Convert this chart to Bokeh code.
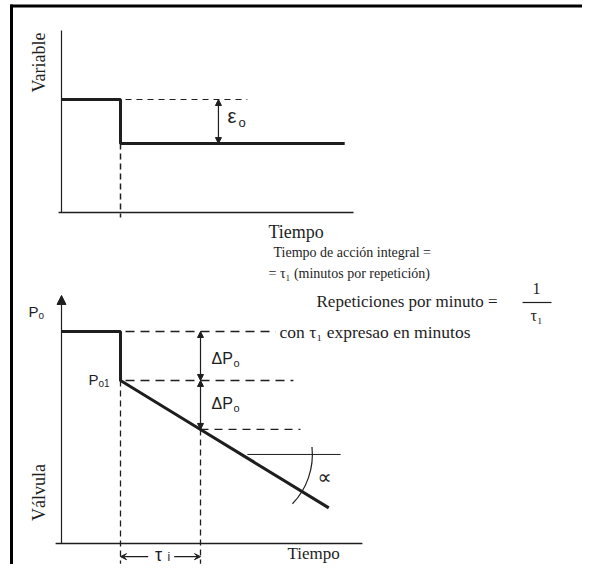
import math
from bokeh.plotting import figure
from bokeh.models import Range1d, Arrow, NormalHead, VeeHead
from bokeh.core.properties import value
from bokeh.embed import file_html
from bokeh.resources import INLINE

# ---------------- data (diagram units) ----------------
# time axis: the step happens at t = 1, integral time tau_i
t_step = 1.0
tau_i = 1.356
# controlled variable (top panel)
var_t = [0.0, 1.0, 1.0, 4.8]
var_v = [1.0, 1.0, 0.61, 0.61]
eps_hi, eps_lo = 1.0, 0.61
# valve output (bottom panel)
valve_t = [0.0, 1.0, 1.0, 2.356, 4.53]
valve_p = [1.0, 1.0, 0.769, 0.538, 0.168]
P0, P01, P02 = 1.0, 0.769, 0.538
alpha_ref = 0.42

# ---------------- labels ----------------
lbl_var = "Variable"
lbl_valve = "Válvula"
lbl_time = "Tiempo"
note_lines = ["Tiempo de acción integral =", "= τ₁ (minutos por repetición)",
              "Repeticiones por minuto =", "con τ₁ expresao en minutos"]

INK = "#1e1e1e"
SERIF = value("Liberation Serif")
SANS = value("Liberation Sans")

# layout: pixel-like default ranges + data ranges for the two panels
W, H = 582, 564
X0, XS = 61.0, 59.0          # px of t=0, px per time unit
Y0V, YSV = 212.0, 113.0      # top panel baseline, px per unit
Y0P, YSP = 543.0, 212.0      # bottom panel baseline, px per unit

p = figure(width=W, height=H, x_range=Range1d(0, W), y_range=Range1d(H, 0),
           output_backend="svg", toolbar_location=None, min_border=0,
           x_axis_location=None, y_axis_location=None)
p.grid.visible = False
p.outline_line_color = None
p.background_fill_color = "white"
p.border_fill_color = "white"
p.extra_x_ranges = {"t": Range1d((0 - X0) / XS, (W - X0) / XS)}
p.extra_y_ranges = {"var": Range1d((Y0V - H) / YSV, Y0V / YSV),
                    "valve": Range1d((Y0P - H) / YSP, Y0P / YSP)}

def seg(xs, ys, yr, **kw):
    p.line(xs, ys, x_range_name="t", y_range_name=yr, line_color=INK, **kw)

def arrow(x0, y0, x1, y1, yr, start=True, end=True, size=6, lw=1.2, head="normal"):
    def mk():
        if head == "normal":
            return NormalHead(size=size, fill_color=INK, line_color=INK, line_width=1)
        return VeeHead(size=size, fill_color=INK, line_color=INK, line_width=1)
    a = Arrow(x_start=x0, y_start=y0, x_end=x1, y_end=y1,
              x_range_name="t", y_range_name=yr,
              start=mk() if start else None, end=mk() if end else None,
              line_color=INK, line_width=lw)
    p.add_layout(a)

def txt(x, y, s, size, font=SERIF, align="left", angle=0.0, baseline="middle"):
    p.text(x=[x], y=[y], text=[s], text_font=font, text_font_size=f"{size}px",
           text_align=align, text_baseline=baseline, text_color=INK, angle=angle)

# frame of the scanned figure
p.line([11, 11], [4, H], line_color="black", line_width=3)
p.line([10, W], [5.5, 5.5], line_color="black", line_width=3)

# ---------------- top panel ----------------
seg([0, 0], [0, 1.61], "var", line_width=1.2)
seg([-0.05, 4.95], [0, 0], "var", line_width=1.5)
seg(var_t, var_v, "var", line_width=3)
seg([1.085, 3.15], [eps_hi, eps_hi], "var", line_width=1.2, line_dash="6 5")
seg([t_step, t_step], [eps_lo, -0.044], "var", line_width=1.5, line_dash="6 4")
arrow(2.66, eps_lo, 2.66, eps_hi, "var", size=6)
txt(227, 115, "ε", 20, font=SANS)
txt(238, 122, "o", 13, font=SANS)
txt(38, 62, lbl_var, 18, align="center", angle=math.pi / 2)

# ---------------- middle notes ----------------
txt(268, 231, lbl_time, 18)
txt(273, 252, note_lines[0], 14)
txt(268, 273, note_lines[1], 14)
txt(316, 301, note_lines[2], 17)
txt(536, 288, "1", 16, align="center")
p.line([522, 551], [302, 302], line_color=INK, line_width=1.2)
txt(536, 315, "τ₁", 16, align="center")
txt(279, 331, note_lines[3], 17.5)

# ---------------- bottom panel ----------------
arrow(0, 0, 0, 1.17, "valve", start=False, end=True, size=9, lw=1.2)
seg([-0.1, 5.1], [0, 0], "valve", line_width=1.5)
seg(valve_t, valve_p, "valve", line_width=3)
seg([1.085, 3.63], [P0, P0], "valve", line_width=1.5, line_dash="9 6")
seg([1.085, 3.93], [P01, P01], "valve", line_width=1.5, line_dash="9 6")
seg([2.356, 4.05], [P02, P02], "valve", line_width=1.2, line_dash="8 6")
seg([t_step, t_step], [P01, -0.095], "valve", line_width=1.3, line_dash="6 4")
seg([t_step + tau_i, t_step + tau_i], [P02, -0.095], "valve", line_width=1.3, line_dash="6 4")
arrow(t_step + tau_i, P0, t_step + tau_i, P01, "valve", size=6)
arrow(t_step + tau_i, P01, t_step + tau_i, P02, "valve", size=6)
seg([3.15, 4.73], [alpha_ref, alpha_ref], "valve", line_width=1)
t_c = t_step + (P01 - alpha_ref) / (P01 - P02) * tau_i
p.arc(x=[t_c], y=[alpha_ref], radius=71, radius_units="screen",
      start_angle=math.radians(-44), end_angle=math.radians(6),
      x_range_name="t", y_range_name="valve", line_color=INK, line_width=1.2)
txt(317, 476, "∝", 20, font=value("DejaVu Sans"))
# tau_i dimension
arrow(1.47, -0.062, t_step, -0.062, "valve", start=False, end=True, size=6, head="vee")
arrow(1.91, -0.062, t_step + tau_i, -0.062, "valve", start=False, end=True, size=6, head="vee")
txt(158, 554, "τ", 18, font=SANS, align="center")
txt(167, 556, "i", 12, font=SANS)
# labels
txt(28, 311, "P", 15, font=SANS)
txt(38, 315, "o", 10, font=SANS)
txt(88, 379, "P", 15, font=SANS)
txt(98, 383, "o1", 10, font=SANS)
txt(211, 358, "ΔP", 16, font=SANS)
txt(233, 362, "o", 11, font=SANS)
txt(211, 403, "ΔP", 16, font=SANS)
txt(233, 407, "o", 11, font=SANS)
txt(38, 492, lbl_valve, 18, align="center", angle=math.pi / 2)
txt(287, 553, lbl_time, 17)

open("out.html", "w").write(file_html(p, INLINE))
